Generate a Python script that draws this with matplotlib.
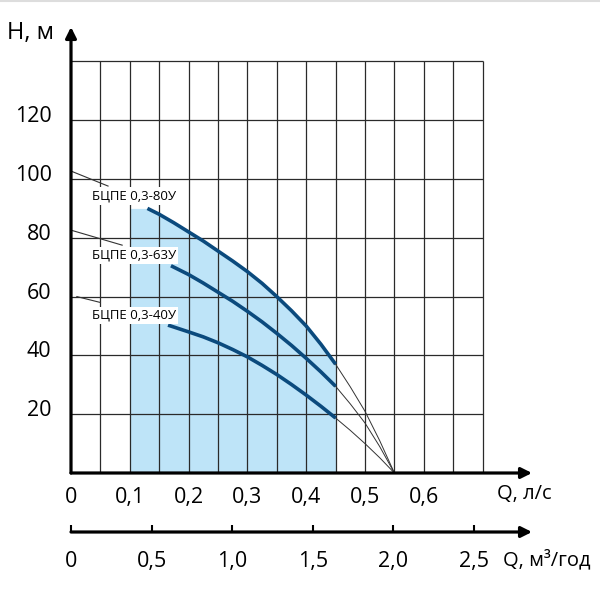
import numpy as np
import matplotlib.pyplot as plt
from matplotlib.transforms import ScaledTranslation

plt.rcParams['font.family'] = ['Open Sans', 'DejaVu Sans']

# Q, л/с  and  H, м
q_80 = [0.13, 0.15, 0.175, 0.20, 0.225, 0.25, 0.275, 0.30, 0.325, 0.35, 0.375, 0.40, 0.425, 0.45]
h_80 = [90, 88, 85.1, 82, 78.9, 75.5, 72.1, 68.5, 64.5, 60, 55.2, 50, 43.8, 37]
q_63 = [0.17, 0.20, 0.225, 0.25, 0.275, 0.30, 0.325, 0.35, 0.375, 0.40, 0.425, 0.45]
h_63 = [70.5, 67.5, 64.6, 61.5, 58.4, 55, 51.4, 47.5, 43.4, 39, 34.4, 29.5]
q_40 = [0.165, 0.20, 0.225, 0.25, 0.275, 0.30, 0.325, 0.35, 0.375, 0.40, 0.425, 0.45]
h_40 = [50.3, 48, 46.3, 44.3, 42, 39.5, 36.6, 33.5, 30.1, 26.5, 22.7, 18.7]

# thin extensions to zero head
q_ext = [0.45, 0.475, 0.50, 0.525, 0.55]
h_ext_80 = [37, 29.3, 21, 11, 0]
h_ext_63 = [29.5, 23.5, 17, 9, 0]
h_ext_40 = [18.7, 14.5, 10, 5.2, 0]

# leader lines to the labels
lead_q = [[0, 0.063], [0, 0.087], [0.01, 0.05]]
lead_h = [[102.7, 97.6], [82.6, 77.5], [60, 58]]
names = ["БЦПЕ 0,3-80У", "БЦПЕ 0,3-63У", "БЦПЕ 0,3-40У"]
name_h = [94.2, 74.1, 53.7]

# working range
q_work = [0.10, 0.45]
h_work_top = 90

grid_q = np.arange(0.05, 0.7001, 0.05)
grid_h = np.arange(20, 140.1, 20)

xt_ls = [0, 0.1, 0.2, 0.3, 0.4, 0.5, 0.6]
xt_ls_lab = ["0", "0,1", "0,2", "0,3", "0,4", "0,5", "0,6"]
yt = [20, 40, 60, 80, 100, 120]
xt_m3 = [0, 0.5, 1.0, 1.5, 2.0, 2.5]
xt_m3_lab = ["0", "0,5", "1,0", "1,5", "2,0", "2,5"]

blue = "#0b4a7d"
fill = "#bee4f8"

fig = plt.figure(figsize=(6, 6), dpi=100)
W = 600.0
ax = fig.add_axes([71 / W, 127 / W, 461 / W, 446 / W])
ax.set_xlim(0, 461 / 588)
ax.set_ylim(0, 446 / 2.94)
for s in ax.spines.values():
    s.set_visible(False)

# shaded working area: flat top then along the 80U curve
fq = [q_work[0]] + q_80
fh = [h_work_top] + h_80
ax.fill_between(fq, 0, fh, color=fill, lw=0, zorder=1)

ax.vlines(grid_q, 0, grid_h[-1], color="#2a2a2a", lw=0.9, zorder=2)
ax.hlines(grid_h, 0, grid_q[-1], color="#2a2a2a", lw=0.9, zorder=2)

for q, h in [(q_80, h_80), (q_63, h_63), (q_40, h_40)]:
    ax.plot(q, h, color=blue, lw=2.6, solid_capstyle="butt",
            solid_joinstyle="round", zorder=4)
for h in [h_ext_80, h_ext_63, h_ext_40]:
    ax.plot(q_ext, h, color="#333333", lw=0.7, zorder=3)
for q, h in zip(lead_q, lead_h):
    ax.plot(q, h, color="#333333", lw=0.8, zorder=3)
for n, h in zip(names, name_h):
    ax.text(0.036, h, n, fontsize=9.5, ha="left", va="center", zorder=5,
            bbox=dict(facecolor="white", edgecolor="none", pad=1.5))

# axes with arrows
arr = dict(arrowstyle="-|>", lw=2.3, color="black", mutation_scale=16,
           shrinkA=0, shrinkB=0)
ax.annotate("", xy=(1, 0), xytext=(0, 0), xycoords="axes fraction", arrowprops=arr)
ax.annotate("", xy=(0, 1), xytext=(0, 0), xycoords="axes fraction", arrowprops=arr)

ax.set_xticks(xt_ls)
ax.set_xticklabels(xt_ls_lab)
ax.set_yticks(yt)
ax.set_yticklabels([str(v) for v in yt])
ax.tick_params(length=0, labelsize=15.5, colors="black")
ax.tick_params(axis="x", pad=10)
ax.tick_params(axis="y", pad=14)
for lab in ax.get_yticklabels():
    lab.set_transform(lab.get_transform() + ScaledTranslation(0, 6 / 100, fig.dpi_scale_trans))

fig.text(7 / W, 1 - 33 / W, "H, м", fontsize=17, ha="left", va="center")
fig.text(497 / W, 1 - 494 / W, "Q, л/с", fontsize=14.5, ha="left", va="center")
fig.text(503 / W, 1 - 560 / W, "Q, м³/год", fontsize=14.5, ha="left", va="center")

# second scale, м³/год
ax2 = fig.add_axes([71 / W, 68 / W, 461 / W, 1 / W])
ax2.set_xlim(0, 461 / 161.2)
ax2.set_ylim(0, 1)
for s in ax2.spines.values():
    s.set_visible(False)
ax2.set_yticks([])
ax2.set_xticks(xt_m3)
ax2.set_xticklabels(xt_m3_lab)
ax2.tick_params(axis="x", direction="in", length=5, width=1.5, pad=14, labelsize=15.5)
ax2.annotate("", xy=(1, 0), xytext=(0, 0), xycoords="axes fraction", arrowprops=arr)

fig.add_artist(plt.Line2D([0, 1], [0.999, 0.999], color="#dddddd", lw=1.5))

fig.savefig("out.png", dpi=100)
